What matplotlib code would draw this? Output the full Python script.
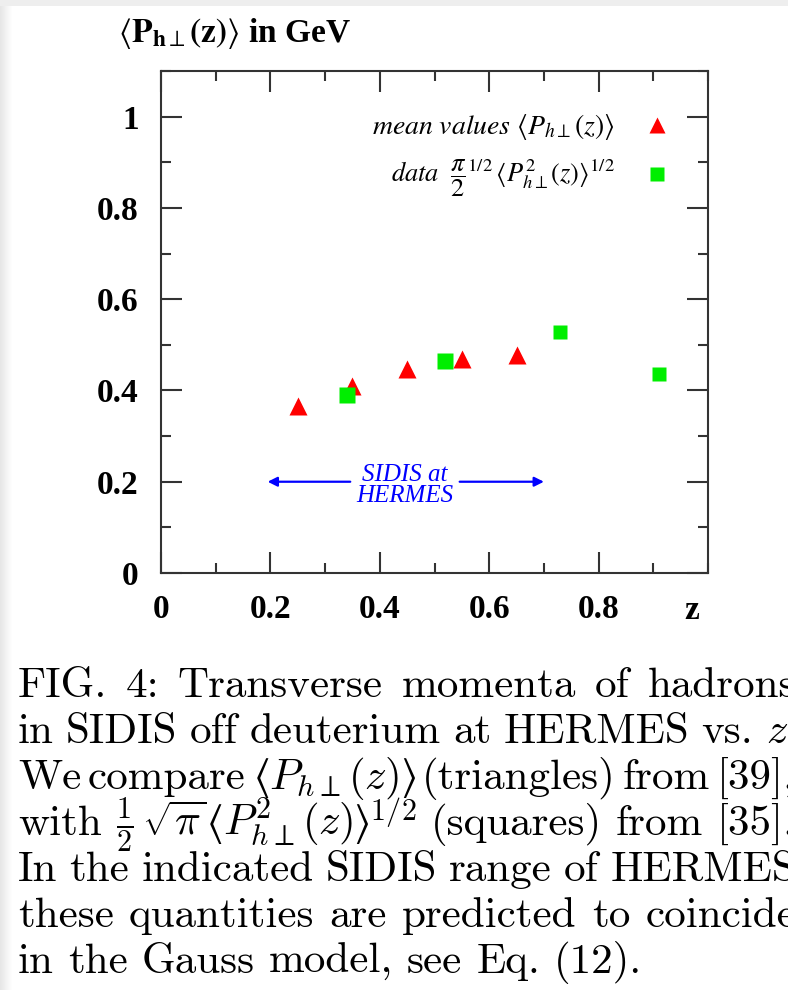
import matplotlib
matplotlib.use("Agg")
import matplotlib.pyplot as plt
import numpy as np
from matplotlib.ticker import MultipleLocator
from matplotlib.patches import Rectangle

# mean values <P_h_perp(z)> (triangles)
tri_z = [0.25, 0.35, 0.45, 0.55, 0.65]
tri_p = [0.367, 0.409, 0.448, 0.468, 0.477]
# data (pi/2)^(1/2) <P^2_h_perp(z)>^(1/2) (squares)
sq_z = [0.34, 0.52, 0.73, 0.91]
sq_p = [0.389, 0.464, 0.527, 0.437]
# SIDIS range at HERMES
sidis_lo, sidis_hi = 0.195, 0.70

x_ticks = [0, 0.2, 0.4, 0.6, 0.8]
x_tick_labels = ["0", "0.2", "0.4", "0.6", "0.8"]
y_ticks = [0, 0.2, 0.4, 0.6, 0.8, 1.0]
y_tick_labels = ["0", "0.2", "0.4", "0.6", "0.8", "1"]

LA, RA = r"$\langle$", r"$\rangle$"
# a word may be a list of pieces set without space between them
caption = [
    ["FIG.", "4:", "Transverse", "momenta", "of", "hadrons"],
    ["in", "SIDIS", "off", "deuterium", "at", "HERMES", "vs.", r"$z$."],
    ["We", "compare", [LA, r"$P_{h\perp}(z)$", RA], "(triangles)", "from", "[39],"],
    ["with", [r"$\frac{1}{2}\,\sqrt{\pi}\,$", LA, r"$P^2_{h\perp}(z)$", RA, r"$^{1/2}$"],
     "(squares)", "from", "[35]."],
    ["In", "the", "indicated", "SIDIS", "range", "of", "HERMES"],
    ["these", "quantities", "are", "predicted", "to", "coincide"],
    ["in", "the", "Gauss", "model,", "see", "Eq.", "(12)."],
]

plt.rcParams["mathtext.fontset"] = "stix"
W, H = 788, 990
fig = plt.figure(figsize=(W / 100, H / 100), dpi=100)
ax = fig.add_axes([161 / W, 1 - 573 / H, 547 / W, 502 / H])

red, green, blue = "#ff0000", "#00ee00", "#0000ff"
ax.plot(tri_z, tri_p, "^", color=red, ms=13, mec="none")
ax.plot(sq_z[:2], sq_p[:2], "s", color=green, ms=12, mec="none")
ax.plot(sq_z[2:], sq_p[2:], "s", color=green, ms=10, mec="none")

# legend drawn by hand, as in the original
ax.plot([0.906], [0.982], "^", color=red, ms=12, mec="none")
ax.plot([0.906], [0.875], "s", color=green, ms=10, mec="none")
ax.text(0.83, 0.978, r"$\mathit{mean\ values}\ \langle P_{h\perp}(z)\rangle$",
        ha="right", va="center", fontsize=20)
ax.text(0.83, 0.866,
        r"$\mathit{data}\ \ {\dfrac{\pi}{2}}^{\mathit{1/2}}\,\langle P^2_{h\perp}(z)\rangle^{\mathit{1/2}}$",
        ha="right", va="center", fontsize=19)

# SIDIS range arrows
mid = 0.446
arrow = dict(arrowstyle="-|>", color=blue, lw=1.6, mutation_scale=14, shrinkA=0, shrinkB=0)
ax.annotate("", xy=(sidis_lo, 0.2), xytext=(mid - 0.1, 0.2), arrowprops=arrow)
ax.annotate("", xy=(sidis_hi, 0.2), xytext=(mid + 0.1, 0.2), arrowprops=arrow)
ax.text(mid, 0.192, "SIDIS at\nHERMES", color=blue, ha="center", va="center",
        fontsize=18, style="italic", family="Liberation Serif", linespacing=0.95)

ax.set_xlim(0, 1)
ax.set_ylim(0, 1.1)
ax.set_xticks(x_ticks)
ax.set_xticklabels(x_tick_labels)
ax.set_yticks(y_ticks)
ax.set_yticklabels(y_tick_labels)
ax.xaxis.set_minor_locator(MultipleLocator(0.1))
ax.yaxis.set_minor_locator(MultipleLocator(0.1))
ax.tick_params(which="both", direction="in", top=True, right=True, color="#333333", width=1.5)
ax.tick_params(which="major", length=15)
ax.tick_params(which="minor", length=7.5)
ax.tick_params(axis="x", pad=15)
ax.tick_params(axis="y", pad=16)
for lab in ax.get_xticklabels() + ax.get_yticklabels():
    lab.set_fontfamily("Liberation Serif")
    lab.set_fontweight("bold")
    lab.set_fontsize(24)
for s in ax.spines.values():
    s.set_color("#333333")
    s.set_linewidth(1.5)

ax.text(0.97, -0.043, "z", transform=ax.transAxes, ha="center", va="top",
        fontsize=24, fontweight="bold", family="Liberation Serif")
fig.text(118 / W, 1 - 42 / H,
         r"$\langle\mathbf{P}_{\mathbf{h}\perp}\mathbf{(z)}\rangle$ in GeV",
         ha="left", va="baseline", fontsize=24, fontweight="bold", family="Liberation Serif")

# caption, justified like the paper
renderer = fig.canvas.get_renderer()
x0, x1 = 18, 796
cap_kw = dict(fontsize=31, family="cmr10", va="baseline")
for i, words in enumerate(caption):
    y = 1 - (697 + 46 * i) / H
    groups = []
    for w in words:
        parts = w if isinstance(w, list) else [w]
        pieces = []
        for p in parts:
            mf = "stix" if p in (LA, RA) else "cm"
            t = fig.text(0, y, p, math_fontfamily=mf, **cap_kw)
            pieces.append((t, t.get_window_extent(renderer).width))
        groups.append(pieces)
    widths = [sum(pw for _, pw in g) for g in groups]
    if i < len(caption) - 1:
        gap = (x1 - x0 - sum(widths)) / (len(groups) - 1)
    else:
        gap = 14
    x = x0
    for g, w in zip(groups, widths):
        px = x
        for t, pw in g:
            t.set_x(px / W)
            px += pw
        x += w + gap

# screenshot border
fig.add_artist(Rectangle((0, 1 - 6 / H), 1, 6 / H, transform=fig.transFigure,
                         color="#eeeeee", lw=0))
bord = fig.add_axes([0, 0, 13 / W, 1 - 6 / H])
bord.imshow(np.linspace(0.9, 1.0, 13)[None, :], cmap="gray", vmin=0, vmax=1,
            aspect="auto", extent=[0, 1, 0, 1])
bord.axis("off")

fig.savefig("out.png", dpi=100)
